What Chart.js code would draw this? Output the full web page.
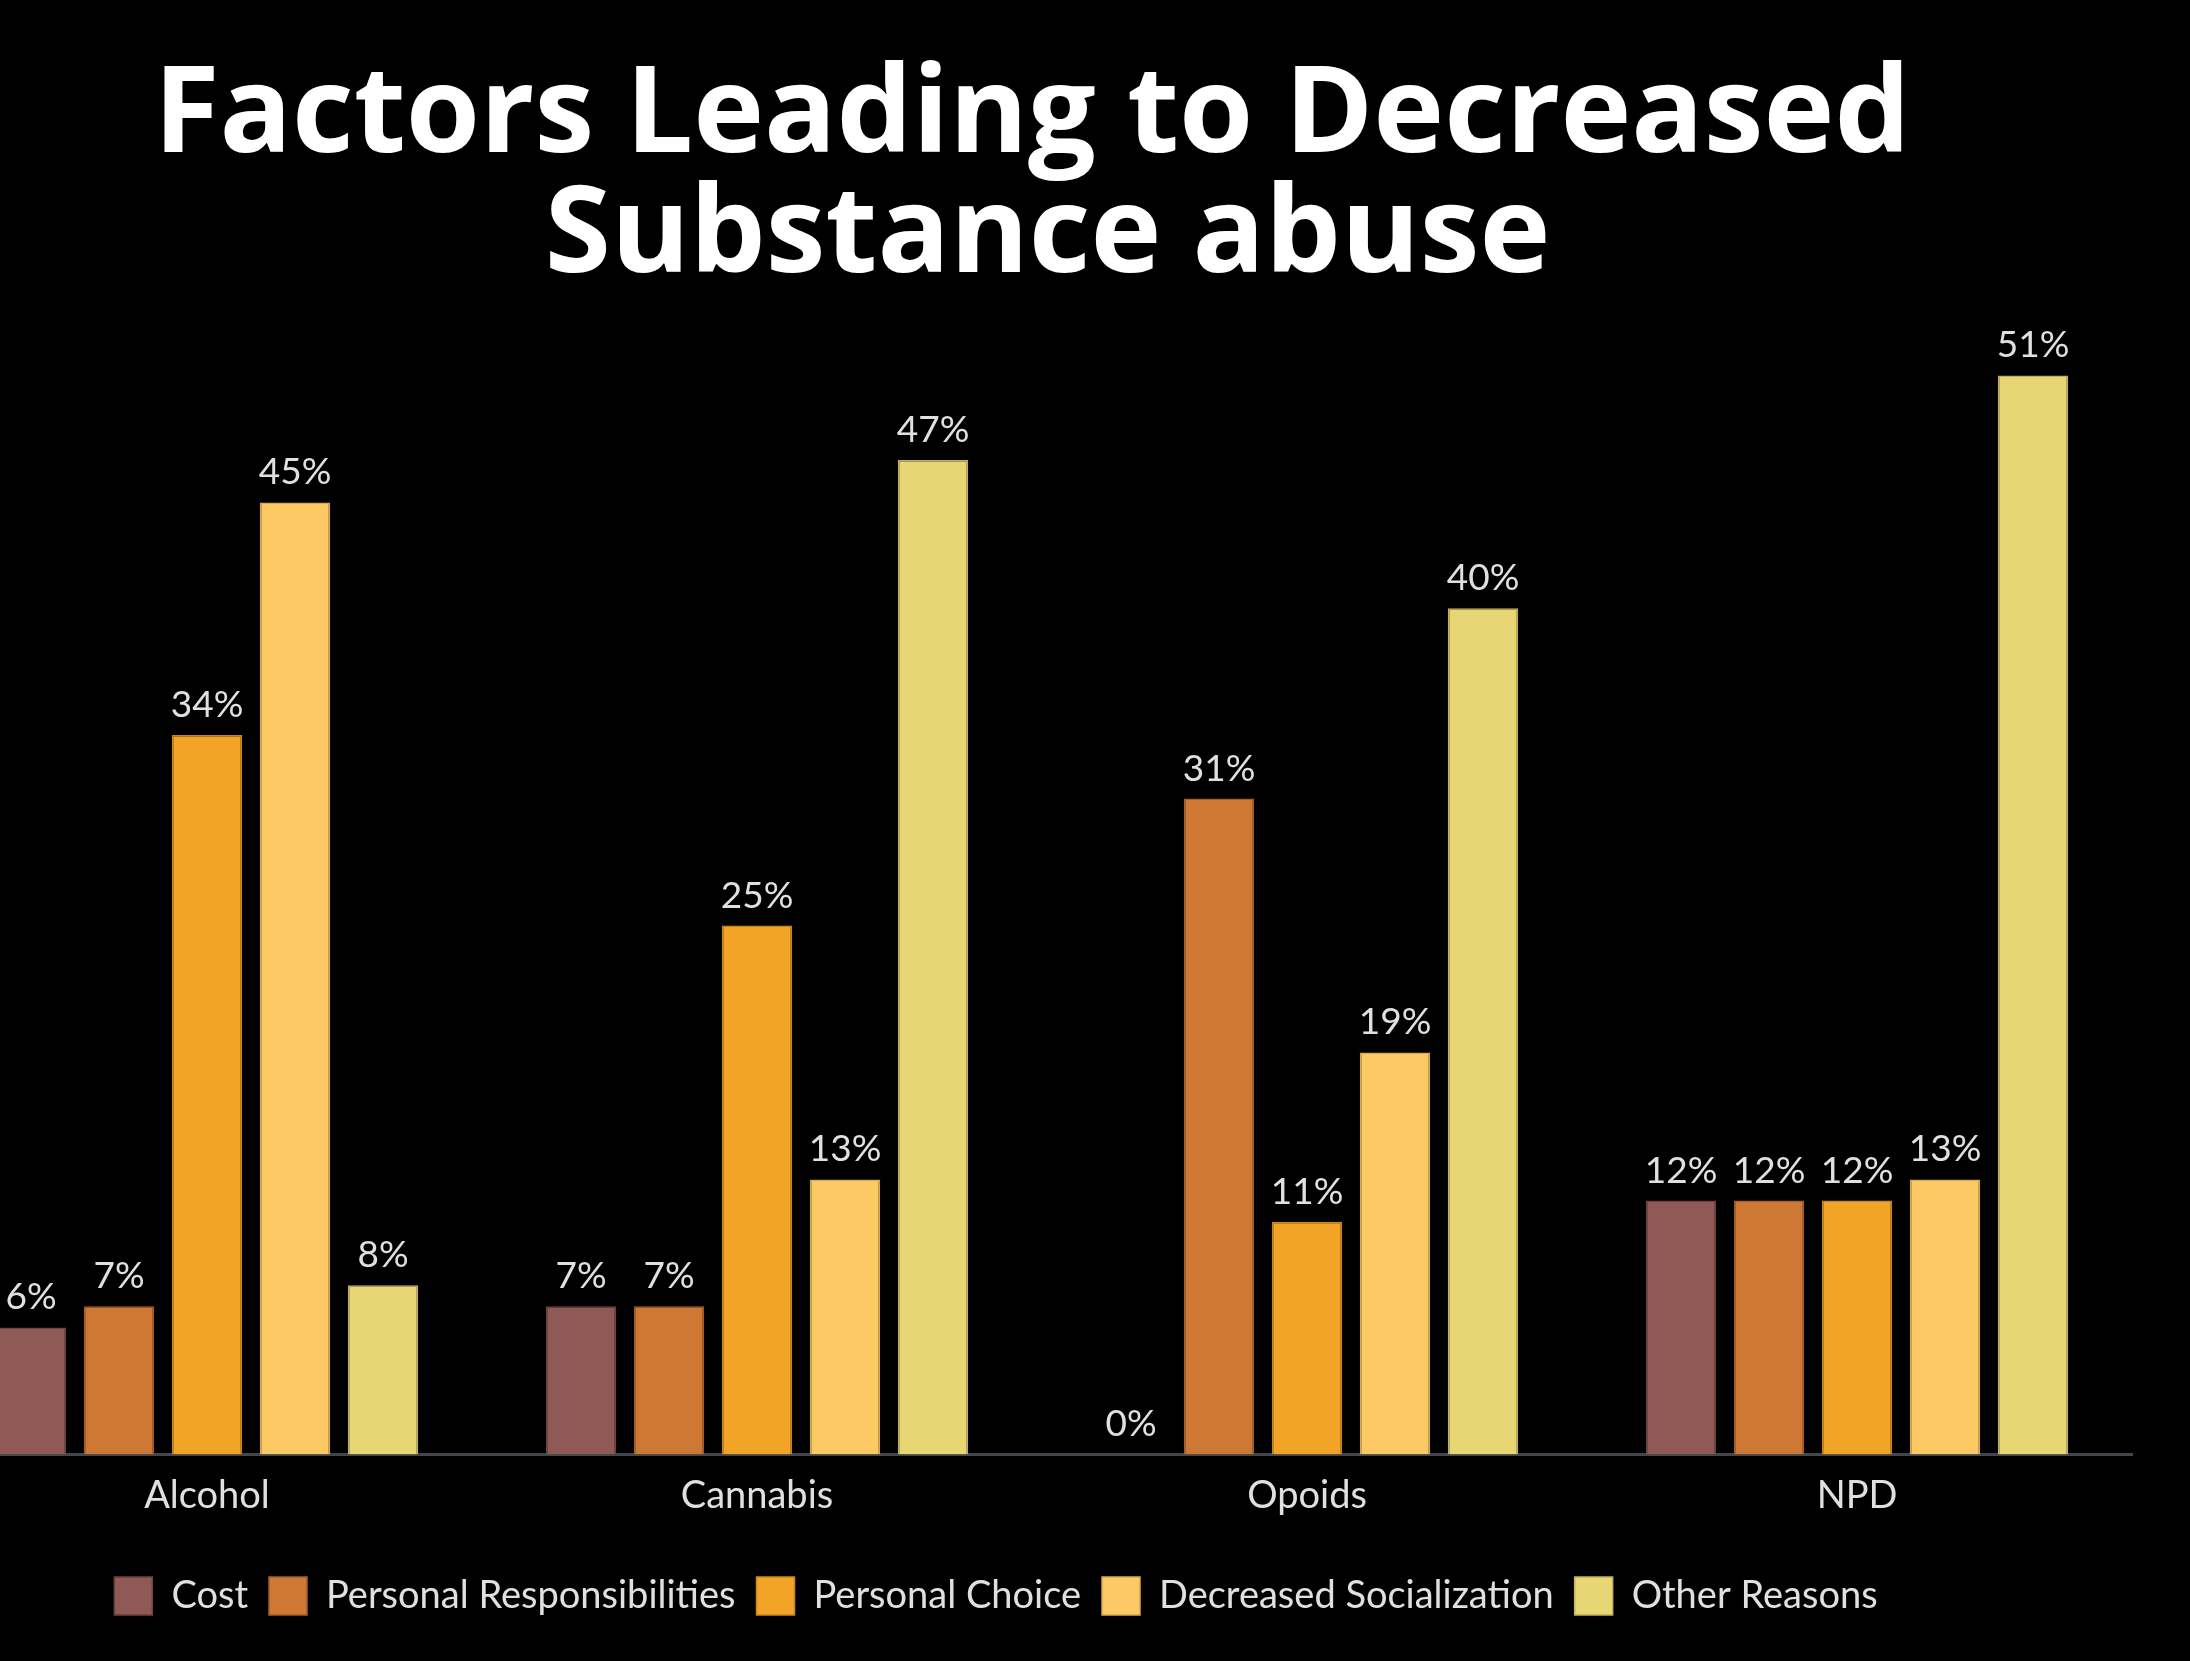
<!DOCTYPE html>
<html>
<head>
<meta charset="utf-8">
<script src="https://cdn.jsdelivr.net/npm/chart.js@4.4.1/dist/chart.umd.min.js"></script>
<style>
  html, body { margin: 0; padding: 0; background: #000; overflow: hidden; }
  #wrap { position: absolute; left: -68px; top: 0; width: 2258px; height: 1661px; }
</style>
</head>
<body>
<div id="wrap"><canvas id="chart"></canvas></div>
<script>
const titleLines = ['Factors Leading to Decreased', '\u00a0Substance abuse'];
const categories = ['Alcohol', 'Cannabis', 'Opoids', 'NPD'];
const seriesNames = ['Cost', 'Personal Responsibilities', 'Personal Choice', 'Decreased Socialization', 'Other Reasons'];

const cost = [6, 7, 0, 12];
const personalResponsibilities = [7, 7, 31, 12];
const personalChoice = [34, 25, 11, 12];
const decreasedSocialization = [45, 13, 19, 13];
const otherReasons = [8, 47, 40, 51];

const seriesValues = [cost, personalResponsibilities, personalChoice, decreasedSocialization, otherReasons];
const fills = ['#8f5955', '#cd7834', '#f2a427', '#fdc964', '#e8d574'];
const edges = ['#6e423f', '#a65d25', '#c7861c', '#d6a94f', '#c2b15d'];

const textColor = '#e0e0e0';

// value labels above each bar
const barValuePlugin = {
  id: 'barValues',
  afterDatasetsDraw(chart) {
    const { ctx } = chart;
    ctx.save();
    ctx.font = '37px Lato, sans-serif';
    ctx.fillStyle = textColor;
    ctx.textAlign = 'center';
    ctx.textBaseline = 'alphabetic';
    chart.data.datasets.forEach((ds, di) => {
      const meta = chart.getDatasetMeta(di);
      meta.data.forEach((bar, i) => {
        ctx.fillText(ds.data[i] + '%', bar.x, bar.y - 18);
      });
    });
    ctx.restore();
  }
};

// legend sits a little left of the plot centre in the original
const legendShift = {
  id: 'legendShift',
  afterLayout(chart) {
    chart.legend.left -= 36;
    chart.legend.right -= 36;
  }
};

new Chart(document.getElementById('chart'), {
  type: 'bar',
  data: {
    labels: categories,
    datasets: seriesNames.map((name, i) => ({
      label: name,
      data: seriesValues[i],
      backgroundColor: fills[i],
      borderColor: edges[i],
      borderWidth: 1.5,
      borderSkipped: 'bottom',
      categoryPercentage: 0.8,
      barPercentage: 0.8
    }))
  },
  options: {
    responsive: true,
    maintainAspectRatio: false,
    animation: false,
    layout: {
      padding: { top: 0, left: 0, right: 58, bottom: 36 }
    },
    scales: {
      x: {
        grid: { display: false, drawTicks: false },
        border: { display: true, color: '#43474d', width: 3 },
        ticks: { color: textColor, padding: 19, font: { family: 'Lato', size: 38 } },
        afterFit(scale) { scale.height += 18; }
      },
      y: {
        display: false,
        min: 0,
        max: 54
      }
    },
    plugins: {
      title: {
        display: true,
        text: titleLines,
        color: '#ffffff',
        font: { family: 'Open Sans', size: 120, weight: 'bold', lineHeight: 1.0 },
        padding: { top: 58, bottom: 14 }
      },
      legend: {
        position: 'bottom',
        labels: {
          color: textColor,
          boxWidth: 38,
          boxHeight: 38,
          padding: 21,
          font: { family: 'Lato', size: 38 }
        }
      },
      tooltip: { enabled: false }
    }
  },
  plugins: [barValuePlugin, legendShift]
});
</script>
</body>
</html>
